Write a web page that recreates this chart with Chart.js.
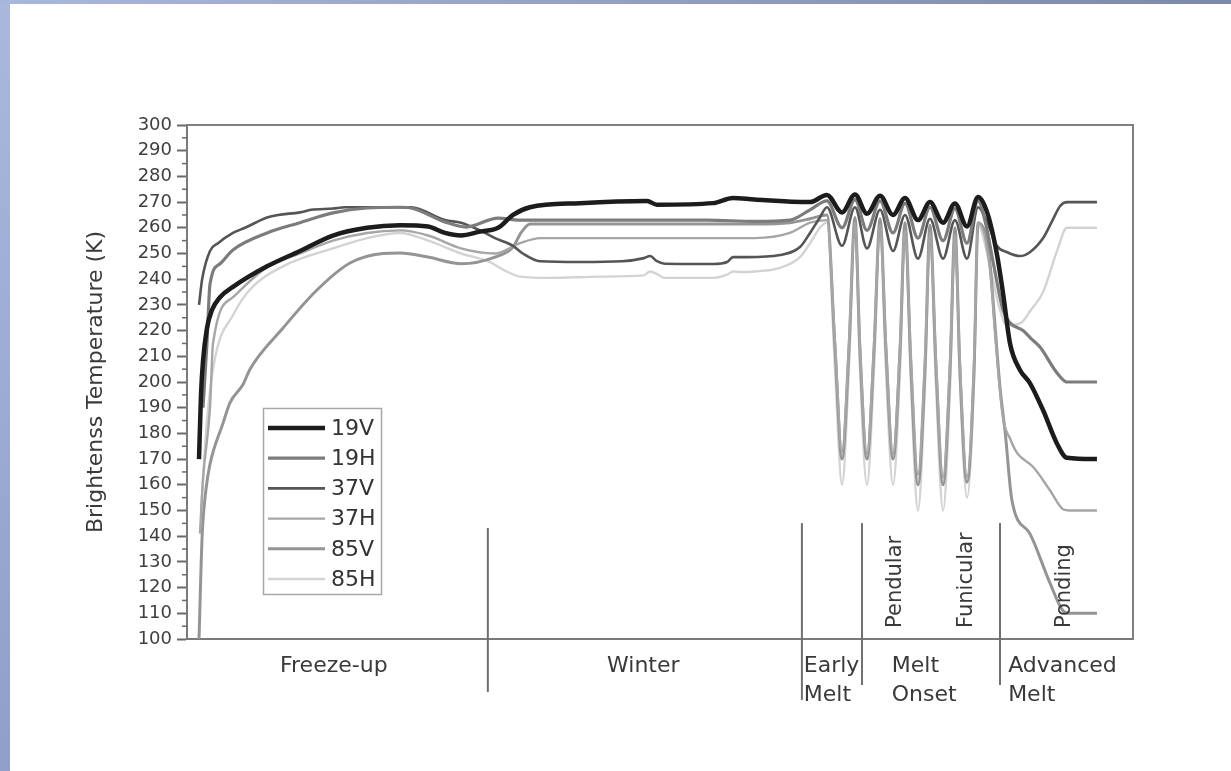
<!DOCTYPE html>
<html>
<head>
<meta charset="utf-8">
<script src="https://cdn.jsdelivr.net/npm/chart.js@4.4.0/dist/chart.umd.min.js"></script>
<style>
  html,body{margin:0;padding:0;background:#fff;}
  #wrap{position:relative;width:1231px;height:771px;overflow:hidden;background:#fff;}
  #leftbar{position:absolute;left:0;top:0;width:10px;height:771px;background:linear-gradient(to bottom,#a9b8dc,#8f9fc9);}
  #topbar{position:absolute;left:0;top:0;width:1231px;height:4px;background:linear-gradient(to right,#a8b7dc,#7c8aa9);}
  #c{position:absolute;left:0;top:0;filter:blur(0.5px);}
</style>
</head>
<body>
<div id="wrap">
  <canvas id="c" width="1231" height="771"></canvas>
  <div id="leftbar"></div>
  <div id="topbar"></div>
</div>
<script>
// ---- data (x = relative time across the season, y = brightness temperature K) ----
const seriesLabels = ['19V', '19H', '37V', '37H', '85V', '85H'];

const t19V = [1.27, 1.48, 1.69, 2.11, 2.64, 3.49, 4.86, 8.46, 11.95, 15.43, 19.03, 22.52, 25.48, 27.27, 28.96, 30.97, 32.88, 34.46, 36.26, 41.54, 48.63, 49.68, 55.60, 57.72, 60.00, 65.86, 67.65, 69.24, 70.61, 71.88, 73.26, 74.63, 75.90, 77.27, 78.54, 79.92, 81.18, 82.45, 83.62, 84.60, 85.60, 86.26, 87.00, 88.05, 89.10, 90.50, 91.97, 93.02, 96.19];
const tb19V = [170, 195, 208, 221, 228, 233, 237, 245, 251, 257, 260, 261, 260.5, 258, 257, 258.5, 260, 265, 268, 269.6, 270.4, 269, 269.6, 271.6, 271, 270, 272.8, 266, 273, 265.5, 272.5, 265, 271.6, 263, 270, 262, 269.5, 260.5, 272, 265.8, 250, 234.6, 215, 204.7, 199.6, 189, 176, 170.5, 170];

const t19H = [1.69, 2.11, 2.43, 3.49, 4.86, 8.46, 11.95, 15.43, 19.03, 22.52, 23.68, 27.27, 29.50, 32.88, 35.20, 40.00, 48.00, 55.00, 60.00, 63.74, 65.86, 67.65, 69.24, 70.61, 71.88, 73.26, 74.63, 75.90, 77.27, 78.54, 79.92, 81.18, 82.45, 83.62, 84.40, 85.30, 86.26, 87.00, 88.37, 89.20, 90.17, 91.97, 93.02, 96.19];
const tb19H = [190, 215, 238, 246, 251.4, 258, 262, 265.8, 267.7, 268, 267.7, 262.3, 260.3, 263.8, 263, 263, 263, 263, 262.5, 263, 267, 270.5, 260, 271, 259, 270.5, 258, 269.5, 256, 268, 255, 267.5, 254, 270.5, 262, 245, 228, 223, 220, 217, 213.6, 203.5, 200, 200];

const t37V = [1.27, 1.60, 2.43, 3.28, 4.86, 6.13, 8.46, 9.62, 11.95, 13.11, 15.43, 16.70, 20.93, 23.68, 27.27, 28.96, 30.97, 32.56, 34.46, 35.50, 37.32, 41.54, 46.00, 48.30, 48.94, 49.68, 50.50, 55.60, 57.10, 57.72, 59.20, 62.68, 64.80, 65.86, 66.90, 67.65, 69.24, 70.61, 71.88, 73.26, 74.63, 75.90, 77.27, 78.54, 79.92, 81.18, 82.45, 83.62, 84.60, 85.60, 86.70, 88.05, 89.10, 90.50, 91.50, 92.30, 93.02, 96.19];
const tb37V = [230, 240, 251, 254, 258, 260, 264, 265, 266, 267, 267.5, 268, 268, 268, 263, 262, 259, 256, 253, 250, 247, 246.7, 247, 248.2, 249, 247, 246, 245.9, 246.7, 248.6, 248.6, 249.4, 252.5, 258, 264, 268, 253, 268, 252, 267, 251, 265, 248, 263.5, 248, 263, 248, 268, 262, 253, 250.5, 249, 250.5, 256, 263, 268.5, 270, 270];

const t37H = [1.37, 1.69, 2.43, 2.75, 4.86, 8.46, 11.95, 15.43, 19.03, 22.52, 25.50, 28.96, 32.56, 35.20, 37.32, 45.00, 55.00, 60.00, 63.74, 65.86, 67.65, 68.49, 69.24, 69.99, 70.61, 71.13, 71.88, 72.63, 73.26, 73.88, 74.63, 75.38, 75.90, 76.52, 77.27, 78.02, 78.54, 79.17, 79.92, 80.67, 81.18, 81.70, 82.45, 83.20, 83.62, 84.88, 85.50, 86.26, 87.00, 87.74, 89.43, 91.20, 92.60, 93.30, 96.19];
const tb37H = [141, 162, 190, 215, 233, 244.7, 250, 255, 258, 259, 257, 252, 250, 254, 256, 256, 256, 256, 258, 262, 263, 216, 173, 216, 262, 215, 172, 215, 261, 215, 172, 215, 259, 210, 164, 210, 258, 209, 163, 209, 257, 208, 163, 208, 262, 244, 215, 186, 178, 172.4, 167, 158, 150.5, 150, 150];

const t85V = [1.27, 1.60, 2.00, 2.43, 3.81, 4.55, 5.92, 6.66, 10.15, 13.74, 17.23, 20.72, 22.52, 25.48, 28.96, 32.56, 34.46, 35.30, 36.26, 40.00, 48.00, 55.00, 60.00, 63.74, 65.86, 67.65, 68.49, 69.24, 69.99, 70.61, 71.13, 71.88, 72.63, 73.26, 73.88, 74.63, 75.38, 75.90, 76.52, 77.27, 78.02, 78.54, 79.17, 79.92, 80.67, 81.18, 81.70, 82.45, 83.20, 83.62, 84.77, 85.20, 85.94, 86.50, 87.20, 89.10, 91.22, 92.60, 93.30, 96.19];
const tb85V = [100, 140, 158, 168, 184, 192, 199, 205, 221, 235.8, 246.3, 250, 250.2, 248.6, 246, 248.6, 252.5, 258, 261.5, 261.5, 261.5, 261.5, 261.5, 262, 263.5, 265, 214, 170, 214, 264, 213, 170, 213, 263.5, 213, 170, 213, 262, 206, 160, 206, 261, 206, 160, 206, 260, 205, 161, 205, 262, 250, 232, 198, 180, 154, 141, 121.8, 111, 110, 110];

const t85H = [1.48, 2.11, 3.00, 4.86, 6.66, 10.15, 15.43, 19.03, 22.52, 25.50, 28.96, 31.80, 33.80, 35.20, 38.40, 43.66, 48.30, 48.94, 49.68, 50.50, 55.60, 57.20, 57.72, 58.50, 60.00, 62.68, 64.80, 65.86, 66.90, 67.65, 68.49, 69.24, 69.99, 70.61, 71.13, 71.88, 72.63, 73.26, 73.88, 74.63, 75.38, 75.90, 76.52, 77.27, 78.02, 78.54, 79.17, 79.92, 80.67, 81.18, 81.70, 82.45, 83.20, 83.62, 84.88, 85.94, 86.68, 88.16, 89.20, 90.50, 91.97, 93.02, 96.19];
const tb85H = [150, 185, 210, 226, 236, 245, 252, 256, 258, 255, 250, 247, 243, 241, 240.5, 241, 241.5, 243, 242, 240.5, 240.5, 242, 243, 242.8, 243, 244.4, 248.6, 254, 260, 262, 206, 160, 207, 261, 206, 160, 206, 260, 205, 160, 205, 258, 200, 150, 200, 257, 199, 150, 199, 256, 201, 155, 201, 261, 245, 228, 222, 223, 228, 235, 251, 260, 260];

// phase annotations
const phaseLabels = [['Freeze-up'], ['Winter'], ['Early', 'Melt'], ['Melt', 'Onset'], ['Advanced', 'Melt']];
const phaseLabelPos = [9.83, 44.4, 65.2, 74.5, 86.8];
const phaseBounds = [31.8, 65.0, 71.35, 85.94];
const dividerTop = [143.2, 145.1, 145.1, 145.1];
const dividerBottom = [79.4, 76.3, 82.1, 82.1];
const subLabels = ['Pendular', 'Funicular', 'Ponding'];
const subLabelPos = [74.95, 82.45, 92.8];
const subLabelBase = 104.3;

// y axis
const yMin = 100, yMax = 300, yStep = 10;
const yTitle = 'Brightenss Temperature (K)';

// ---- styles ----
const styles = {
  '19V': {color: '#1c1c1c', width: 4.5},
  '19H': {color: '#7c7c7c', width: 3.2},
  '37V': {color: '#555555', width: 2.6},
  '37H': {color: '#a6a6a6', width: 2.4},
  '85V': {color: '#949494', width: 3},
  '85H': {color: '#d3d3d3', width: 2.4}
};

function pts(t, v) { return t.map((x, i) => ({x: x, y: v[i]})); }
const seriesData = {
  '19V': pts(t19V, tb19V), '19H': pts(t19H, tb19H), '37V': pts(t37V, tb37V),
  '37H': pts(t37H, tb37H), '85V': pts(t85V, tb85V), '85H': pts(t85H, tb85H)
};

const datasets = seriesLabels.map(l => ({
  label: l,
  data: seriesData[l],
  borderColor: styles[l].color,
  borderWidth: styles[l].width,
  pointRadius: 0,
  fill: false,
  cubicInterpolationMode: 'monotone'
}));

const FONT = 'DejaVu Sans';

const decor = {
  id: 'decor',
  afterDraw(chart) {
    const ctx = chart.ctx, a = chart.chartArea, xs = chart.scales.x, ys = chart.scales.y;
    ctx.save();
    // frame top/right
    ctx.strokeStyle = '#7f7f7f'; ctx.lineWidth = 2;
    ctx.beginPath(); ctx.moveTo(a.left, a.top); ctx.lineTo(a.right, a.top); ctx.lineTo(a.right, a.bottom); ctx.stroke();
    // minor ticks
    ctx.strokeStyle = '#6a6a6a'; ctx.lineWidth = 1.5;
    for (let v = yMin + yStep / 2; v < yMax; v += yStep) {
      const py = ys.getPixelForValue(v);
      ctx.beginPath(); ctx.moveTo(a.left - 5, py); ctx.lineTo(a.left, py); ctx.stroke();
    }
    // phase dividers
    ctx.strokeStyle = '#6f6f6f'; ctx.lineWidth = 2;
    phaseBounds.forEach((b, i) => {
      const px = xs.getPixelForValue(b);
      ctx.beginPath();
      ctx.moveTo(px, ys.getPixelForValue(dividerTop[i]));
      ctx.lineTo(px, ys.getPixelForValue(dividerBottom[i]));
      ctx.stroke();
    });
    // rotated sub-phase labels
    ctx.fillStyle = '#3a3a3a';
    ctx.font = '21px "' + FONT + '"';
    ctx.textAlign = 'left'; ctx.textBaseline = 'middle';
    subLabels.forEach((s, i) => {
      ctx.save();
      ctx.translate(xs.getPixelForValue(subLabelPos[i]), ys.getPixelForValue(subLabelBase));
      ctx.rotate(-Math.PI / 2);
      ctx.fillText(s, 0, 0);
      ctx.restore();
    });
    // legend box
    const lx = 263, ly = 408, lw = 118, lh = 186;
    ctx.fillStyle = '#ffffff'; ctx.fillRect(lx, ly, lw, lh);
    ctx.strokeStyle = '#a8a8a8'; ctx.lineWidth = 1.5; ctx.strokeRect(lx + 0.5, ly + 0.5, lw, lh);
    ctx.font = '22px "' + FONT + '"';
    chart.data.datasets.forEach((ds, i) => {
      const y = ly + 20 + i * 30.2;
      ctx.strokeStyle = ds.borderColor; ctx.lineWidth = ds.borderWidth;
      ctx.beginPath(); ctx.moveTo(lx + 5, y); ctx.lineTo(lx + 62, y); ctx.stroke();
      ctx.fillStyle = '#333333'; ctx.textAlign = 'left'; ctx.textBaseline = 'middle';
      ctx.fillText(ds.label, lx + 68, y + 1);
    });
    ctx.restore();
  }
};

new Chart(document.getElementById('c'), {
  type: 'line',
  data: {datasets: datasets},
  options: {
    responsive: false,
    animation: false,
    devicePixelRatio: 1,
    layout: {padding: {left: 80, top: 125, right: 98, bottom: 60}},
    plugins: {legend: {display: false}, tooltip: {enabled: false}},
    scales: {
      x: {
        type: 'linear', min: 0, max: 100,
        grid: {display: false, drawTicks: false},
        border: {display: true, color: '#7a7a7a', width: 2},
        afterBuildTicks: s => { s.ticks = phaseLabelPos.map(v => ({value: v})); },
        afterFit: s => { s.height = 72; },
        ticks: {
          autoSkip: false, maxRotation: 0, minRotation: 0, align: 'start', padding: 13,
          color: '#3a3a3a', font: {family: FONT, size: 22, lineHeight: 1.3},
          callback: (v, i) => phaseLabels[i]
        }
      },
      y: {
        type: 'linear', min: yMin, max: yMax,
        afterFit: s => { s.width = 107; },
        grid: {drawOnChartArea: false, drawTicks: true, tickLength: 10, tickColor: '#6a6a6a', tickWidth: 2},
        border: {display: true, color: '#7a7a7a', width: 2},
        ticks: {stepSize: yStep, autoSkip: false, padding: 5, color: '#404040', font: {family: FONT, size: 18}},
        title: {display: true, text: yTitle, color: '#3a3a3a', font: {family: FONT, size: 22}, padding: {top: 3, bottom: 3}}
      }
    }
  },
  plugins: [decor]
});
</script>
</body>
</html>
